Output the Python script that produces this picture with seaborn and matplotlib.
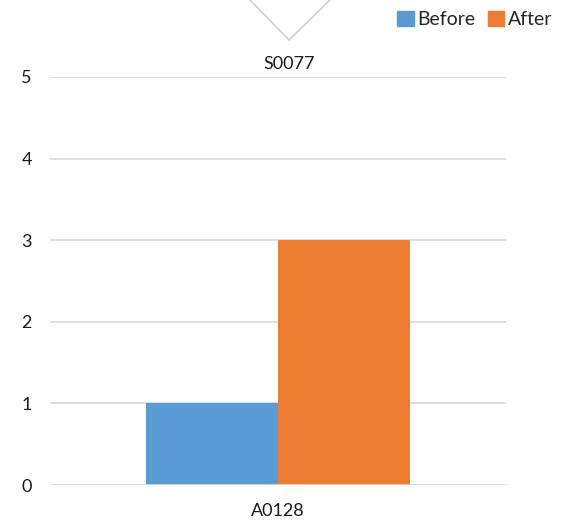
import matplotlib
matplotlib.use("Agg")
import matplotlib.pyplot as plt
from matplotlib.lines import Line2D
from matplotlib.patches import Patch
import seaborn as sns
import pandas as pd

categories = ["A0128"]
series = ["Before", "After"]
before_values = [1]
after_values = [3]
title = "S0077"
colors = ["#5B9BD5", "#ED7D31"]

df = pd.DataFrame({
    "category": categories * 2,
    "series": [series[0]] * len(categories) + [series[1]] * len(categories),
    "value": before_values + after_values,
})

sns.set_theme(style="white")
plt.rcParams["font.family"] = ["Lato", "DejaVu Sans"]

fig = plt.figure(figsize=(5.63, 5.20), dpi=100)
ax = fig.add_axes([50 / 563, 35 / 520, 456 / 563, 408 / 520])

sns.barplot(data=df, x="category", y="value", hue="series", palette=colors,
            width=0.58, saturation=1, ax=ax, legend=False, zorder=3,
            linewidth=0)

ax.set_ylim(0, 5)
ax.set_xlim(-0.5, 0.5)
ax.set_yticks(range(0, 6))
ax.yaxis.grid(True, color="#D9D9D9", linewidth=1.2, zorder=0)
ax.set_axisbelow(True)
ax.axhline(0, color="#D9D9D9", linewidth=1.2, zorder=4)
for s in ax.spines.values():
    s.set_visible(False)
ax.set_xlabel("")
ax.set_ylabel("")
ax.tick_params(axis="y", length=0, pad=13, labelsize=13, labelcolor="#1A1A1A")
ax.tick_params(axis="x", length=0, pad=13, labelsize=13, labelcolor="#1A1A1A")

fig.text(289 / 563, 1 - 64 / 520, title, ha="center", va="center",
         fontsize=13, color="#1A1A1A")

# callout pointer above the title
fig.add_artist(Line2D([250 / 563, 289 / 563, 330 / 563],
                      [1.0, 1 - 40 / 520, 1.0],
                      transform=fig.transFigure, color="#D0D0D0", linewidth=1.2))

handles = [Patch(facecolor=c, edgecolor=c) for c in colors]
fig.legend(handles, series, loc="upper right", bbox_to_anchor=(1.0, 1.0),
           ncol=2, frameon=False, fontsize=14, handlelength=0.85,
           handleheight=0.85, handletextpad=0.2, columnspacing=0.6,
           borderaxespad=0.15)

fig.savefig("out.png", dpi=100)
